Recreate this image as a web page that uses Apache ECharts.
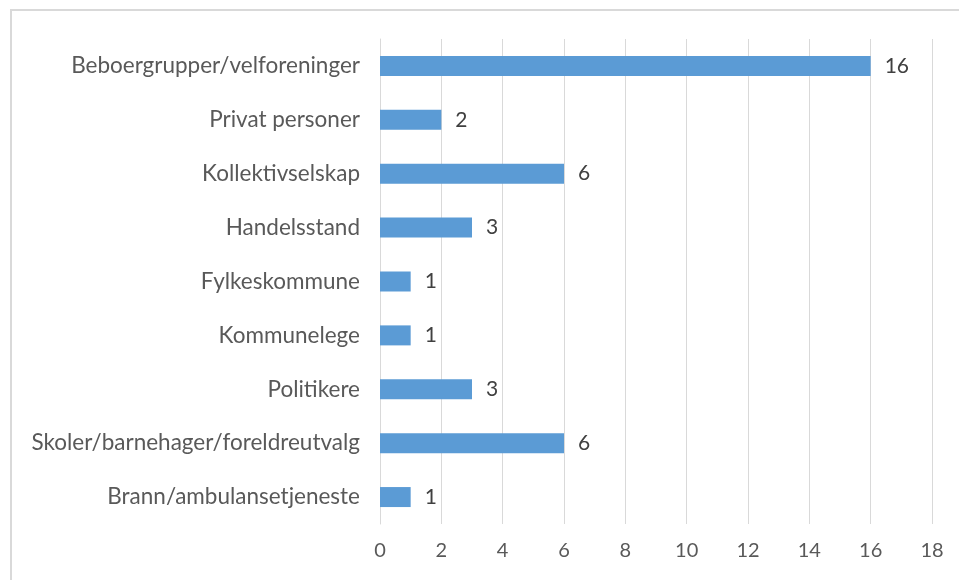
<!DOCTYPE html>
<html><head><meta charset="utf-8">
<script src="https://cdn.jsdelivr.net/npm/echarts@6/dist/echarts.min.js"></script>
<style>html,body{margin:0;padding:0;background:#fff}#c{width:959px;height:580px}</style>
</head><body><div id="c"></div>
<script>
const categories = ["Beboergrupper/velforeninger","Privat personer","Kollektivselskap","Handelsstand","Fylkeskommune","Kommunelege","Politikere","Skoler/barnehager/foreldreutvalg","Brann/ambulansetjeneste"];
const values = [16,2,6,3,1,1,3,6,1];
const xTicks = {min:0, max:18, interval:2};

const chart = echarts.init(document.getElementById('c'), null, {renderer:'canvas'});
chart.setOption({
  backgroundColor:'#fff',
  animation:false,
  graphic:[{type:'rect', shape:{x:11,y:10,width:1000,height:1000}, style:{fill:'none', stroke:'#d9d9d9', lineWidth:2}, silent:true}],
  grid:{left:380, right:27, top:39, bottom:56, containLabel:false},
  xAxis:{type:'value', min:xTicks.min, max:xTicks.max, interval:xTicks.interval,
    axisLine:{show:false}, axisTick:{show:false},
    axisLabel:{color:'#595959', fontFamily:'Lato', fontSize:20, margin:17},
    splitLine:{lineStyle:{color:'#d9d9d9', width:1}}},
  yAxis:{type:'category', data:categories, inverse:true,
    axisLine:{lineStyle:{color:'#d9d9d9'}}, axisTick:{show:false},
    axisLabel:{color:'#595959', fontFamily:'Lato', fontSize:22.5, margin:20}},
  series:[{type:'bar', data:values, barWidth:20,
    itemStyle:{color:'#5b9bd5'},
    label:{show:true, position:'right', distance:14, color:'#404040', fontFamily:'Lato', fontSize:21}}]
});
</script></body></html>
